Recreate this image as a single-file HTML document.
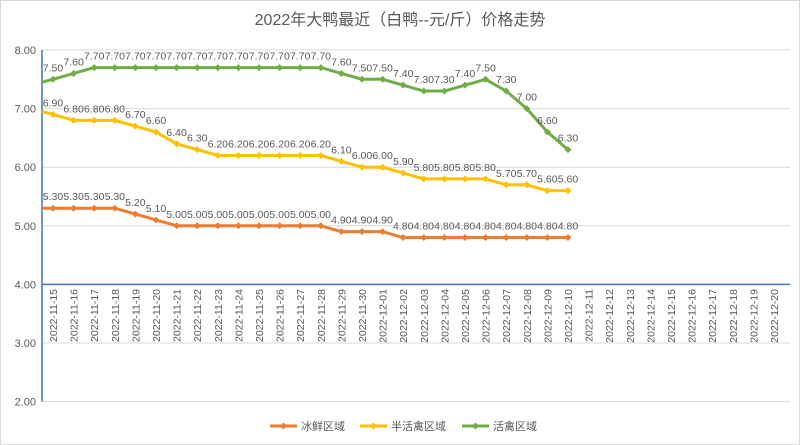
<!DOCTYPE html>
<html><head><meta charset="utf-8"><style>
body{margin:0;background:#fff}
svg{display:block;font-family:"Liberation Sans","Noto Sans CJK SC",sans-serif}
</style></head><body>
<svg id="s" width="800" height="445" viewBox="0 0 800 445" xmlns="http://www.w3.org/2000/svg">
<rect x="0.5" y="0.5" width="799" height="444" fill="#fff" stroke="#d9d9d9"/>
<text x="400" y="25" text-anchor="middle" font-size="16" fill="#595959">2022年大鸭最近（白鸭--元/斤）价格走势</text>
<g id="g"></g>
</svg>
<script>
const g=document.getElementById('g');let h='';
const Y=v=>50+(8-v)*58.6, X=i=>53+i*20.6;
for(let v=2;v<=8;v++){const y=Y(v);
 if(v!=4)h+=`<line x1="42" x2="790" y1="${y}" y2="${y}" stroke="#d9d9d9"/>`;
 h+=`<text x="36" y="${y+4}" text-anchor="end" font-size="11" fill="#595959">${v.toFixed(2)}</text>`;}
h+=`<line x1="42" x2="790" y1="${Y(4)}" y2="${Y(4)}" stroke="#4472c4" stroke-width="1.5"/>`;
h+=`<line x1="42" x2="42" y1="50" y2="${Y(2)}" stroke="#4472c4" stroke-width="1.5"/>`;
const d0=[15,16,17,18,19,20,21,22,23,24,25,26,27,28,29,30].map(d=>'2022-11-'+d);
for(let d=1;d<=20;d++)d0.push('2022-12-'+(d<10?'0'+d:d));
d0.forEach((t,i)=>{h+=`<text transform="translate(${X(i)+4},289) rotate(-90)" text-anchor="end" font-size="10.5" fill="#595959">${t}</text>`});
const r=(v,n)=>Array(n).fill(v);
const S=[
 {c:'#ed7d31',s:5.30,d:[...r(5.3,4),5.2,5.1,...r(5,8),...r(4.9,3),...r(4.8,9)]},
 {c:'#ffc000',s:6.95,d:[6.9,...r(6.8,3),6.7,6.6,6.4,6.3,...r(6.2,6),6.1,6,6,5.9,...r(5.8,4),5.7,5.7,5.6,5.6]},
 {c:'#70ad47',s:7.45,d:[7.5,7.6,...r(7.7,12),7.6,7.5,7.5,7.4,7.3,7.3,7.4,7.5,7.3,7,6.6,6.3]}];
S.forEach(s=>{let p=`42,${Y(s.s)} `+s.d.map((v,i)=>X(i)+','+Y(v)).join(' ');
 h+=`<polyline points="${p}" fill="none" stroke="${s.c}" stroke-width="3" stroke-linejoin="round"/>`;
 s.d.forEach((v,i)=>{const x=X(i),y=Y(v);
  h+=`<path d="M${x-3.5} ${y}L${x} ${y-3.5}L${x+3.5} ${y}L${x} ${y+3.5}Z" fill="${s.c}"/>`;
  h+=`<text x="${x}" y="${y-8}" text-anchor="middle" font-size="10.5" fill="#595959">${v.toFixed(2)}</text>`;});
});
const L=[[270,'#ed7d31','冰鲜区域'],[360,'#ffc000','半活禽区域'],[462,'#70ad47','活禽区域']];
L.forEach(([x,c,t])=>{h+=`<line x1="${x}" x2="${x+27}" y1="426" y2="426" stroke="${c}" stroke-width="3"/><path d="M${x+10} 426L${x+13.5} 422.5L${x+17} 426L${x+13.5} 429.5Z" fill="${c}"/><text x="${x+31}" y="430" font-size="11" fill="#595959">${t}</text>`});
g.innerHTML=h;
</script>
</body></html>
